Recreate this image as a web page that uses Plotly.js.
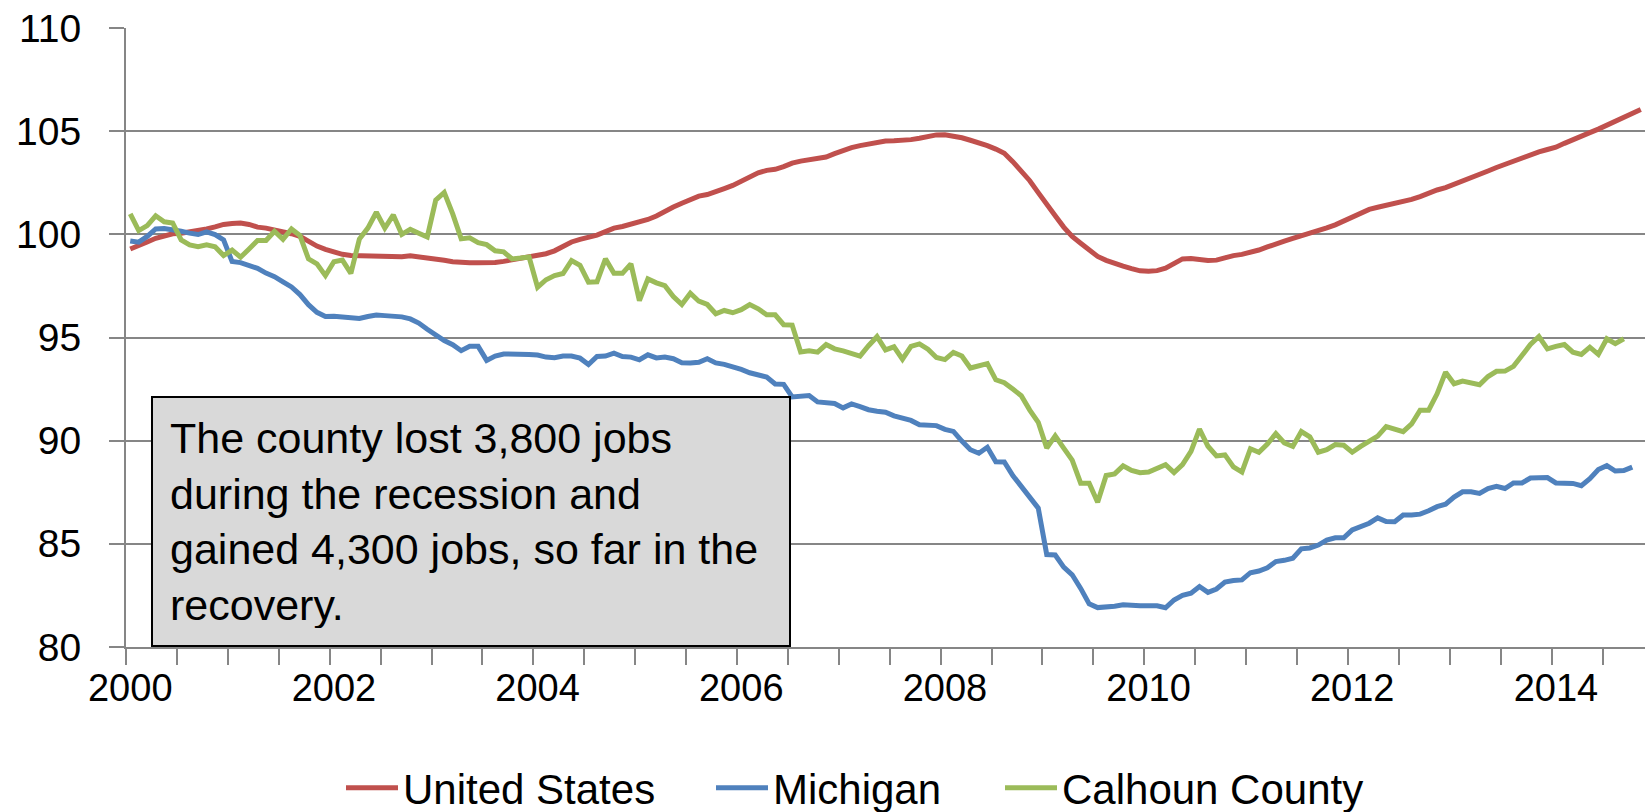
<!DOCTYPE html>
<html>
<head>
<meta charset="utf-8">
<script src="https://cdn.plot.ly/plotly-3.0.1.min.js"></script>
<style>
html,body{margin:0;padding:0;background:#ffffff;}
#chart{width:1645px;height:812px;}
</style>
</head>
<body>
<div id="chart"></div>
<script>
// ---- data (monthly index, Jan 2000 = first category) ----
const startYear = 2000;
const nCategories = 179;

const usValues = [
99.29,99.43,99.63,99.81,99.95,100.03,100.05,100.1,100.2,100.26,
100.36,100.48,100.53,100.55,100.48,100.35,100.3,100.23,100.13,100.03,
99.9,99.66,99.43,99.27,99.14,99.03,98.98,98.97,98.96,98.93,
98.9,98.88,98.91,98.96,98.91,98.87,98.84,98.74,98.67,98.63,
98.62,98.62,98.62,98.64,98.69,98.76,98.83,98.9,98.97,99.06,
99.2,99.42,99.63,99.76,99.85,99.96,100.13,100.3,100.38,100.48,
100.6,100.72,100.89,101.12,101.32,101.51,101.71,101.85,101.93,102.05,
102.22,102.37,102.56,102.79,102.98,103.1,103.15,103.28,103.45,103.55,
103.62,103.66,103.75,103.91,104.08,104.2,104.3,104.39,104.47,104.52,
104.53,104.54,104.59,104.66,104.75,104.82,104.83,104.78,104.68,104.56,
104.44,104.3,104.13,103.93,103.52,103.05,102.6,102.02,101.42,100.9,
100.35,99.9,99.57,99.22,98.93,98.74,98.58,98.46,98.34,98.23,
98.21,98.24,98.36,98.6,98.81,98.83,98.78,98.73,98.75,98.87,
98.97,99.03,99.12,99.24,99.39,99.55,99.67,99.8,99.92,100.03,
100.16,100.31,100.46,100.66,100.87,101.05,101.21,101.31,101.39,101.48,
101.57,101.69,101.83,102.0,102.15,102.26,102.41,102.6,102.77,102.92,
103.07,103.24,103.4,103.54,103.68,103.84,104.0,104.11,104.22,104.41,
104.6,104.76,104.93,105.1,105.29,105.5,105.69,105.89,106.05
];

const miValues = [
99.68,99.62,99.9,100.26,100.28,100.23,100.15,100.06,99.99,100.12,
99.99,99.73,98.68,98.63,98.52,98.35,98.12,97.95,97.7,97.45,
97.08,96.59,96.22,96.02,96.03,95.98,95.95,95.92,96.02,96.09,
96.06,96.03,96.0,95.9,95.7,95.4,95.1,94.85,94.65,94.36,
94.57,94.57,93.89,94.1,94.2,94.21,94.2,94.18,94.15,94.05,
94.02,94.1,94.1,94.0,93.69,94.08,94.1,94.24,94.08,94.05,
93.92,94.16,94.01,94.05,93.97,93.78,93.76,93.8,93.97,93.77,
93.7,93.6,93.45,93.29,93.2,93.08,92.75,92.73,92.12,92.15,
92.19,91.88,91.83,91.8,91.59,91.78,91.65,91.5,91.43,91.38,
91.2,91.1,90.98,90.77,90.78,90.73,90.55,90.45,89.98,89.56,
89.39,89.68,88.98,88.97,88.31,87.8,87.3,86.73,84.48,84.46,
83.87,83.5,82.84,82.09,81.91,81.92,81.98,82.05,82.0,82.0,
82.0,82.0,81.9,82.28,82.5,82.61,82.93,82.65,82.81,83.15,
83.22,83.25,83.6,83.68,83.84,84.14,84.2,84.3,84.76,84.8,
84.94,85.18,85.29,85.29,85.67,85.84,86.0,86.26,86.08,86.07,
86.4,86.4,86.44,86.6,86.8,86.92,87.27,87.52,87.52,87.44,
87.68,87.79,87.68,87.95,87.95,88.19,88.2,88.21,87.95,87.95,
87.93,87.82,88.16,88.6,88.79,88.53,88.55,88.72
];

const caValues = [
100.99,100.18,100.42,100.9,100.61,100.55,99.73,99.49,99.4,99.49,
99.4,98.97,99.24,98.89,99.29,99.7,99.7,100.15,99.76,100.26,
99.94,98.81,98.57,98.0,98.67,98.75,98.11,99.77,100.3,101.07,
100.3,100.94,100.0,100.24,100.05,99.87,101.66,102.03,100.99,99.78,
99.83,99.6,99.5,99.2,99.15,98.81,98.85,98.9,97.44,97.8,
98.0,98.1,98.73,98.5,97.68,97.7,98.81,98.11,98.11,98.57,
96.79,97.84,97.65,97.51,96.99,96.6,97.15,96.76,96.6,96.15,
96.31,96.2,96.35,96.6,96.39,96.1,96.1,95.62,95.6,94.3,
94.36,94.29,94.66,94.45,94.35,94.2,94.1,94.6,95.04,94.4,
94.55,93.95,94.57,94.69,94.43,94.03,93.93,94.28,94.1,93.52,
93.62,93.73,92.95,92.81,92.5,92.18,91.48,90.89,89.64,90.23,
89.64,89.06,87.94,87.94,87.01,88.31,88.39,88.78,88.56,88.45,
88.48,88.64,88.84,88.45,88.84,89.48,90.56,89.73,89.26,89.31,
88.73,88.48,89.61,89.44,89.84,90.34,89.89,89.72,90.44,90.19,
89.44,89.56,89.81,89.78,89.44,89.72,89.94,90.22,90.68,90.56,
90.44,90.81,91.48,91.48,92.27,93.32,92.76,92.89,92.82,92.71,
93.11,93.36,93.37,93.6,94.13,94.66,95.05,94.45,94.57,94.66,
94.29,94.18,94.53,94.18,94.94,94.7,94.94
];

const seriesNames = ['United States', 'Michigan', 'Calhoun County'];
const seriesColors = ['#c0504d', '#4f81bd', '#9bbb59'];
const yearLabels = ['2000','2002','2004','2006','2008','2010','2012','2014'];
const noteText = 'The county lost 3,800 jobs<br>during the recession and<br>gained 4,300 jobs, so far in the<br>recovery.';

// ---- categories ----
const months = [];
for (let i = 0; i < nCategories; i++) {
  months.push(String(startYear + Math.floor(i / 12)) + '-' + String(i % 12 + 1).padStart(2, '0'));
}
const idx = months.map((m, i) => i);
const labelPos = yearLabels.map(y => months.indexOf(y + '-01'));

const FONT = 'Liberation Sans, Arial, sans-serif';
const seriesValues = [usValues, miValues, caValues];
const legendIds = ['legend', 'legend2', 'legend3'];

const traces = seriesValues.map((vals, s) => ({
  type: 'scatter',
  mode: 'lines',
  x: idx.slice(0, vals.length),
  y: vals,
  text: months.slice(0, vals.length),
  name: seriesNames[s],
  legend: legendIds[s],
  line: {color: seriesColors[s], width: 5, shape: 'linear'},
  hoverinfo: 'text+y+name'
}));

const gray = '#868686';
const plotL = 126, plotW = 1645 - 126, plotB = 812 - 165, plotH = 812 - 28 - 165;
const px2x = X => (X - plotL) / plotW;
const py2y = Y => (plotB - Y) / plotH;

function legendAt(X) {
  return {
    x: px2x(X), y: py2y(754), xanchor: 'left', yanchor: 'top',
    orientation: 'h', bgcolor: 'rgba(0,0,0,0)', borderwidth: 0,
    font: {family: FONT, size: 42, color: '#000'}, itemwidth: 52
  };
}

const layout = {
  width: 1645, height: 812,
  margin: {l: 126, r: 0, t: 28, b: 165, pad: 0, autoexpand: false},
  paper_bgcolor: '#ffffff', plot_bgcolor: '#ffffff',
  font: {family: FONT, color: '#000000'},
  showlegend: true,
  xaxis: {
    type: 'linear',
    range: [-0.5, nCategories - 0.5],
    tickmode: 'array', tickvals: labelPos, ticktext: yearLabels,
    ticks: '', showgrid: false, zeroline: false,
    showline: true, linecolor: gray, linewidth: 2,
    tickfont: {family: FONT, size: 38, color: '#000'},
    ticklabelstandoff: 6,
    minor: {tickmode: 'linear', tick0: -0.5, dtick: 6, ticks: 'outside', ticklen: 16, tickcolor: gray, tickwidth: 1.5, showgrid: false},
    fixedrange: true
  },
  yaxis: {
    range: [80, 110], tickmode: 'linear', tick0: 80, dtick: 5,
    ticks: 'outside', ticklen: 15, tickcolor: gray, tickwidth: 1.5,
    showgrid: true, gridcolor: gray, gridwidth: 1.5,
    zeroline: false, showline: true, linecolor: gray, linewidth: 2,
    tickfont: {family: FONT, size: 39, color: '#000'},
    ticklabelstandoff: 20,
    fixedrange: true
  },
  legend: legendAt(341),
  legend2: legendAt(711),
  legend3: legendAt(1000),
  annotations: [{
    xref: 'paper', yref: 'paper',
    x: px2x(151), y: 0, xanchor: 'left', yanchor: 'bottom',
    text: noteText, showarrow: false,
    align: 'left', valign: 'middle',
    font: {family: FONT, size: 43, color: '#000'},
    bgcolor: '#d9d9d9', bordercolor: '#000000', borderwidth: 2, borderpad: 17,
    width: 602, height: 213
  }]
};

Plotly.newPlot('chart', traces, layout, {displayModeBar: false, responsive: false});
</script>
</body>
</html>
